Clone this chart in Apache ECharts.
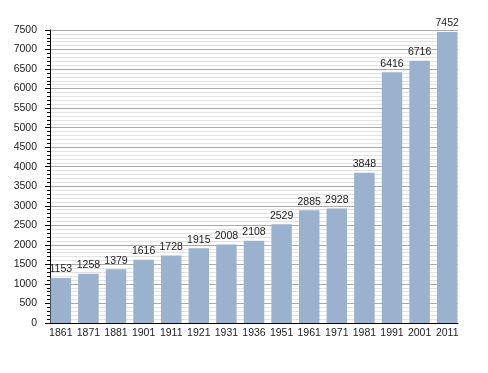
<!DOCTYPE html>
<html><head><meta charset="utf-8">
<script src="https://cdn.jsdelivr.net/npm/echarts@6/dist/echarts.min.js"></script>
<style>html,body{margin:0;padding:0;background:#fff}#c{width:488px;height:373px}</style>
</head><body><div id="c"></div>
<script>
var years = ['1861','1871','1881','1901','1911','1921','1931','1936','1951','1961','1971','1981','1991','2001','2011'];
var population = [1153,1258,1379,1616,1728,1915,2008,2108,2529,2885,2928,3848,6416,6716,7452];
var yMin = 0, yMax = 7500, yStep = 500;

var font = 'Liberation Sans, Arial, sans-serif';
var chart = echarts.init(document.getElementById('c'), null, {renderer:'canvas'});
chart.setOption({
  backgroundColor:'#fff',
  animation:false,
  grid:[
    {left:47, right:27, top:30, bottom:50},
    {left:50, right:30, top:30, bottom:50}
  ],
  xAxis:[
    {type:'category', gridIndex:0, data:years,
     axisLine:{show:false}, axisTick:{show:false},
     axisLabel:{interval:0, color:'#222', fontSize:10.5, fontFamily:font, margin:5}},
    {type:'value', gridIndex:1, min:0, max:1,
     axisLine:{show:true, onZero:false, lineStyle:{color:'#000', width:1}},
     axisTick:{show:false}, axisLabel:{show:false}, splitLine:{show:false}}
  ],
  yAxis:[
    {type:'value', gridIndex:0, min:yMin, max:yMax, interval:yStep, show:false},
    {type:'value', gridIndex:1, min:yMin, max:yMax, interval:yStep, z:0,
     axisLine:{show:true, lineStyle:{color:'#000', width:1}},
     axisTick:{show:true, inside:false, length:5, lineStyle:{color:'#000'}},
     minorTick:{show:true, splitNumber:5, length:3, lineStyle:{color:'#000'}},
     axisLabel:{color:'#222', fontSize:10.5, fontFamily:font, margin:13,
       formatter:function(v){return String(v);}},
     splitLine:{show:true, lineStyle:{color:'#aaaaaa', width:1}},
     minorSplitLine:{show:true, lineStyle:{color:'#e2e2e2', width:1}}}
  ],
  series:[{
    type:'bar', xAxisIndex:0, yAxisIndex:0, data:population,
    barWidth:20.5, z:5,
    itemStyle:{color:'#9bb2cf'},
    label:{show:true, position:'top', distance:3, color:'#222', fontSize:10.5, fontFamily:font}
  }]
});
</script></body></html>
